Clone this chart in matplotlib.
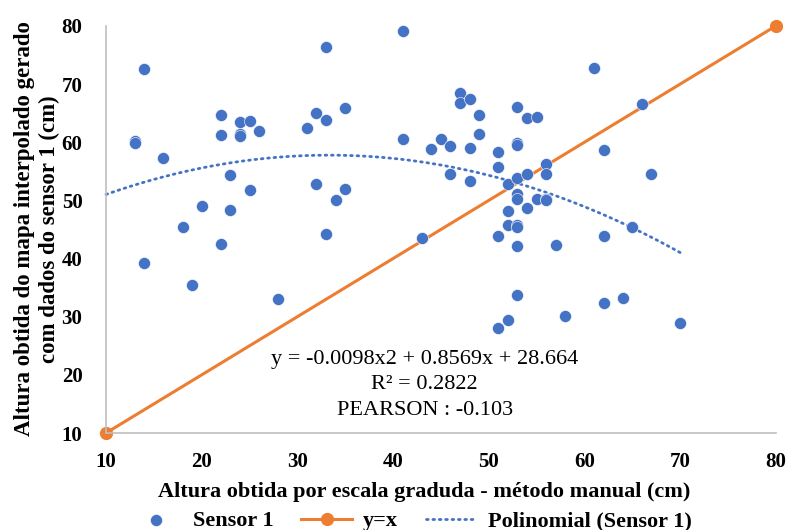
import numpy as np
import matplotlib.pyplot as plt

# Sensor 1 data (manual scale vs interpolated map)
x_manual = [13, 13, 14, 14, 16, 18, 19, 20, 22, 22, 22, 23, 23, 24, 24, 24,
            25, 25, 26, 28, 31, 32, 32, 33, 33, 33, 34, 35, 35, 41, 41, 43,
            44, 45, 46, 46, 47, 47, 48, 48, 48, 49, 49, 51, 51, 51, 51,
            52, 52, 52, 52, 53, 53, 53, 53, 53, 53, 53, 53, 53, 53,
            54, 54, 54, 55, 55, 56, 56, 56, 56, 57, 58, 61, 62, 62, 62,
            64, 65, 66, 67, 70]
y_sensor = [60.3, 59.8, 72.6, 39.2, 57.3, 45.5, 35.5, 49.1, 64.7, 61.2, 42.5,
            54.3, 48.4, 63.5, 61.4, 61.0, 63.7, 51.8, 61.9, 33.0, 62.5, 65.1,
            52.8, 76.3, 63.9, 44.3, 50.1, 65.9, 52.0, 79.1, 60.5, 43.6, 58.9,
            60.5, 59.4, 54.5, 68.5, 66.7, 67.5, 59.0, 53.3, 64.7, 61.5, 58.4,
            55.8, 43.8, 28.1, 52.8, 48.1, 45.7, 29.4, 66.1, 59.8, 59.6, 53.9,
            51.1, 50.3, 45.8, 45.4, 42.1, 33.8, 64.2, 54.5, 48.7, 64.3, 50.3,
            56.3, 54.6, 50.3, 50.1, 42.4, 30.2, 72.8, 58.7, 43.9, 32.3, 33.3,
            45.4, 66.6, 54.6, 29.0]

ident = [10, 80]
trend_range = [10, 70]

blue = '#4472C4'
orange = '#ED7D31'

plt.rcParams['font.family'] = ['Liberation Serif', 'DejaVu Serif']

fig = plt.figure(figsize=(7.87, 5.30), dpi=100)
ax = fig.add_axes([0.1347, 0.183, 0.851, 0.768])

ax.scatter(x_manual, y_sensor, s=75, color=blue, zorder=3, label='Sensor 1',
           edgecolors='white', linewidths=0.4)
ax.plot(ident, ident, color=orange, lw=2.2, marker='o', ms=8.5, zorder=2,
        label='y=x')

coef = np.polyfit(x_manual, y_sensor, 2)
xt = np.linspace(trend_range[0], trend_range[1], 200)
ax.plot(xt, np.polyval(coef, xt), color=blue, lw=2, ls=(0, (0.6, 1.7)),
        dash_capstyle='round', zorder=1, label='Polinomial (Sensor 1)')

ax.set_xlim(10, 80)
ax.set_ylim(10, 80)
ax.set_xticks(range(10, 81, 10))
ax.set_yticks(range(10, 81, 10))
ax.tick_params(length=0, labelsize=15)
ax.tick_params(axis='x', pad=14)
ax.tick_params(axis='y', pad=17)
for lbl in ax.get_xticklabels() + ax.get_yticklabels():
    lbl.set_fontweight('bold')
for s in ['top', 'right']:
    ax.spines[s].set_visible(False)
for s in ['left', 'bottom']:
    ax.spines[s].set_color('#BFBFBF')
    ax.spines[s].set_linewidth(1.2)
for art in ax.lines + ax.collections:
    art.set_clip_on(False)

fig.text(0.5395, 1 - 492 / 530, 'Altura obtida por escala graduda - método manual (cm)',
         fontsize=16, fontweight='bold', ha='center', va='center')
fig.text(37 / 787, 1 - 229 / 530,
         'Altura obtida do mapa interpolado gerado\ncom dados do sensor 1 (cm)',
         fontsize=16.5, fontweight='bold', rotation=90, ha='center', va='center',
         multialignment='center', linespacing=1.2)

ax.text(0.476, 0.118, 'y = -0.0098x2 + 0.8569x + 28.664\nR² = 0.2822\nPEARSON : -0.103',
        transform=ax.transAxes, ha='center', va='center', fontsize=16,
        linespacing=1.45)

fig.legend(loc='center', bbox_to_anchor=(0.5225, 1 - 521 / 530), ncol=3,
           frameon=False, prop={'size': 16, 'weight': 'bold'},
           handlelength=2.3, columnspacing=1.25, handletextpad=0.5,
           borderaxespad=0, borderpad=0)

fig.savefig('out.png', dpi=100)
